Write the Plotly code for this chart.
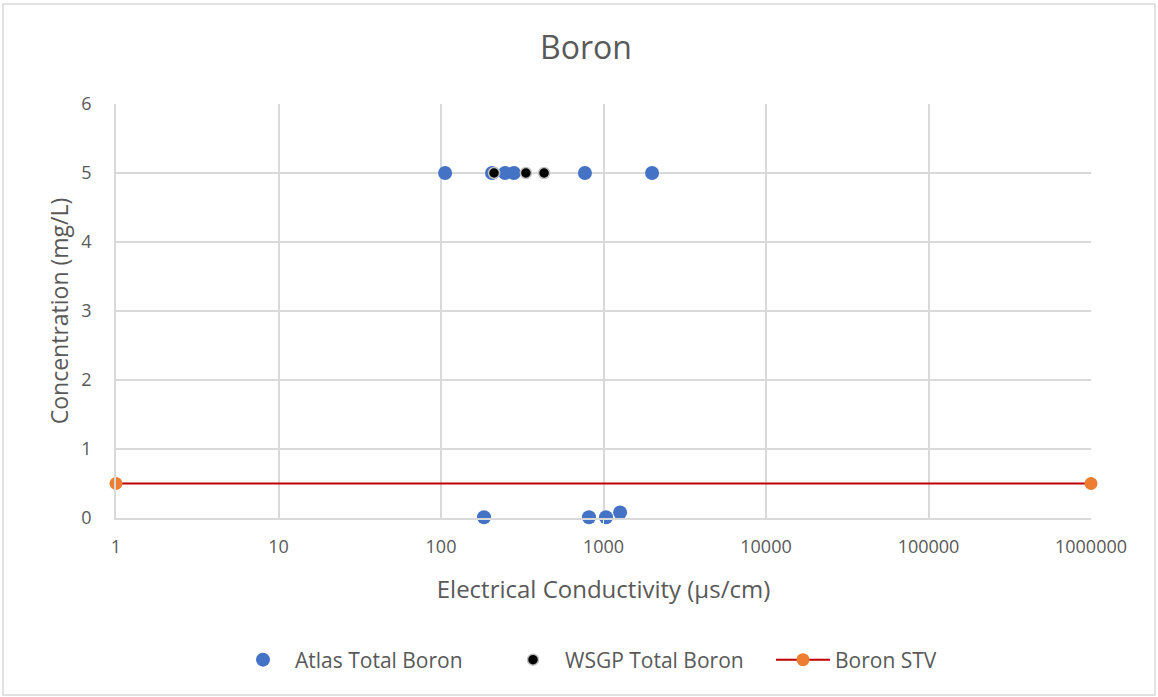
import plotly.graph_objects as go

atlas_ec = [106, 206, 248, 281, 769, 1990, 184, 814, 1036, 1265]
atlas_b = [5, 5, 5, 5, 5, 5, 0.01, 0.01, 0.01, 0.08]
wsgp_ec = [212, 333, 431]
wsgp_b = [5, 5, 5]
stv_ec = [1, 1000000]
stv_b = [0.5, 0.5]
x_ticks = [1, 10, 100, 1000, 10000, 100000, 1000000]
x_ticktext = ["1", "10", "100", "1000", "10000", "100000", "1000000"]

FONT = "Open Sans"
GREY = "#595959"

fig = go.Figure()
fig.add_trace(go.Scatter(x=atlas_ec, y=atlas_b, mode="markers", name="Atlas Total Boron",
                         marker=dict(color="#4472C4", size=14), cliponaxis=False))
fig.add_trace(go.Scatter(x=wsgp_ec, y=wsgp_b, mode="markers", name="WSGP Total Boron",
                         marker=dict(color="#000000", size=11, line=dict(color="#bfbfbf", width=1.5)),
                         cliponaxis=False))
fig.add_trace(go.Scatter(x=stv_ec, y=stv_b, mode="lines+markers", name="Boron STV",
                         line=dict(color="#C00000", width=2),
                         marker=dict(color="#ED7D31", size=13), cliponaxis=False))

fig.update_layout(
    width=1158, height=697,
    margin=dict(l=116, r=67, t=104, b=179),
    paper_bgcolor="white", plot_bgcolor="white",
    font=dict(family=FONT, color=GREY, size=18),
    title=dict(text="Boron", x=586 / 1158, xref="container", xanchor="center", y=0.931, yanchor="middle",
               font=dict(size=32, color=GREY, family=FONT)),
    xaxis=dict(type="log", range=[0, 6], tickvals=x_ticks, ticktext=x_ticktext,
               showgrid=True, gridcolor="#d9d9d9", gridwidth=1.5,
               showline=True, linecolor="#d9d9d9", linewidth=1.5, zeroline=False,
               ticks="outside", ticklen=12, tickcolor="white", tickfont=dict(size=18, color=GREY),
               title=dict(text="Electrical Conductivity (µs/cm)", font=dict(size=24, color=GREY), standoff=24)),
    yaxis=dict(range=[0, 6], dtick=1, showgrid=True, gridcolor="#d9d9d9", gridwidth=1.5,
               showline=True, linecolor="#d9d9d9", linewidth=1.5, zeroline=False,
               ticks="outside", ticklen=19, tickcolor="white", tickfont=dict(size=18, color=GREY),
               title=dict(text="Concentration (mg/L)", font=dict(size=23, color=GREY), standoff=6)),
    legend=dict(orientation="h", x=(263 - 116 - 32) / 975, xanchor="left", y=-0.343, yanchor="middle",
                font=dict(size=21, color=GREY), entrywidth=201, entrywidthmode="pixels",
                itemwidth=54, tracegroupgap=0),
    showlegend=True,
)
fig.add_shape(type="rect", xref="paper", yref="paper",
              x0=-113/975, x1=1 + 64/975, y0=-177/414, y1=1 + 100/414,
              line=dict(color="#d9d9d9", width=1.5), fillcolor="rgba(0,0,0,0)")

fig.write_html("out.html")
